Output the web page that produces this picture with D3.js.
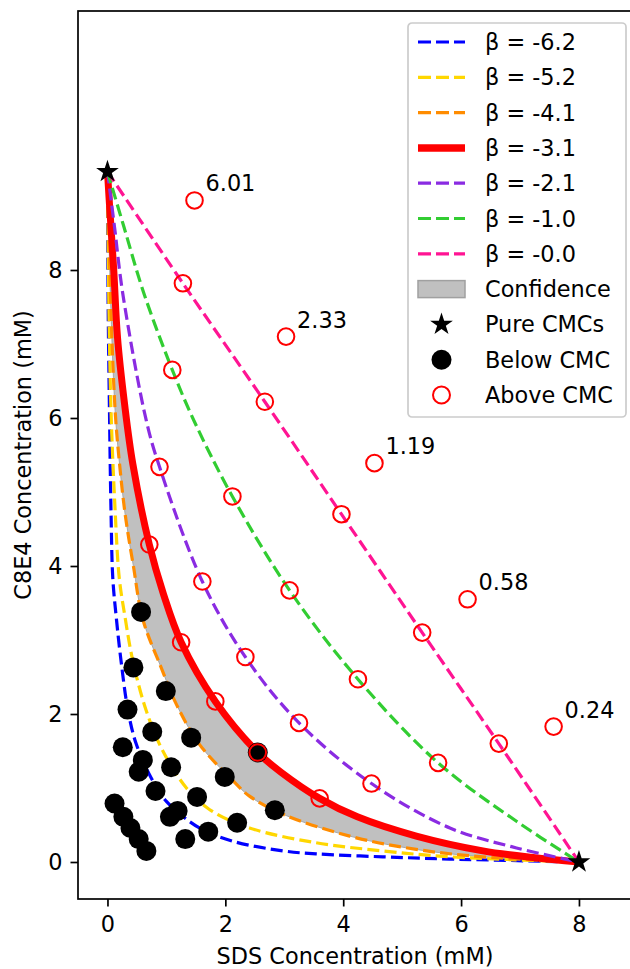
<!DOCTYPE html>
<html>
<head>
<meta charset="utf-8">
<script src="https://cdn.jsdelivr.net/npm/d3@7"></script>
<style>
  body { margin: 0; background: #fff; }
  svg { display: block; font-family: "DejaVu Sans", sans-serif; }
</style>
</head>
<body>
<div id="chart"></div>
<script>
// data
var pureCMC = [[0, 9.33], [8, 0]];

var belowCMC = [
  [0.57, 3.38], [0.44, 2.63], [0.34, 2.06], [0.99, 2.31], [0.76, 1.76],
  [0.26, 1.55], [0.60, 1.38], [0.53, 1.22], [1.42, 1.68], [1.08, 1.28],
  [0.815, 0.96], [1.99, 1.15], [1.52, 0.88], [1.19, 0.69], [1.06, 0.61],
  [1.71, 0.41], [1.32, 0.31], [2.20, 0.53], [2.84, 0.70], [2.55, 1.48],
  [0.12, 0.79], [0.27, 0.61], [0.39, 0.46], [0.53, 0.31], [0.66, 0.15]
];

var aboveCMC = [
  [1.28, 7.82], [2.67, 6.22], [3.97, 4.70], [5.34, 3.10], [6.64, 1.60],
  [1.10, 6.65], [2.12, 4.94], [3.09, 3.67], [4.25, 2.47], [5.61, 1.34],
  [0.883, 5.34], [1.61, 3.79], [2.34, 2.77], [3.25, 1.88], [4.48, 1.06],
  [0.71, 4.29], [1.25, 2.97], [1.83, 2.17], [2.55, 1.48], [3.60, 0.86],
  [1.477, 8.94], [3.03, 7.10], [4.53, 5.39], [6.11, 3.55], [7.57, 1.83]
];

var labelPoints = [[1.477, 8.94], [3.03, 7.10], [4.53, 5.39], [6.11, 3.55], [7.57, 1.83]];
var labelTexts = ["6.01", "2.33", "1.19", "0.58", "0.24"];

var betaNames = ["β = -6.2", "β = -5.2", "β = -4.1", "β = -3.1", "β = -2.1", "β = -1.0", "β = -0.0"];
var betaColors = ["#0000ff", "#ffd700", "#ff8c00", "#ff0000", "#8a2be2", "#32cd32", "#ff1493"];

var curveB62 = [[0, 9.33], [0.012, 7.5], [0.034, 6.1], [0.06, 4.75], [0.09, 3.84], [0.15, 3.3],
  [0.23, 2.72], [0.35, 2.04], [0.49, 1.59], [0.74, 1.14], [1.0, 0.82], [1.56, 0.46],
  [2.13, 0.28], [2.98, 0.15], [3.54, 0.11], [4.67, 0.07], [5.81, 0.04], [8, 0]];
var curveB52 = [[0, 9.33], [0.025, 7.5], [0.06, 6.1], [0.13, 4.75], [0.20, 3.84], [0.30, 3.3],
  [0.43, 2.72], [0.66, 2.04], [0.94, 1.50], [1.34, 1.00], [1.73, 0.71], [2.41, 0.46],
  [3.54, 0.26], [4.67, 0.15], [5.81, 0.07], [8, 0]];
var curveB41 = [[0, 9.33], [0.05, 7.68], [0.13, 6.1], [0.20, 5.42], [0.30, 4.7], [0.44, 4.0],
  [0.60, 3.28], [0.91, 2.63], [1.17, 2.13], [1.56, 1.59], [2.13, 1.10], [2.41, 0.89],
  [2.98, 0.645], [4.11, 0.35], [5.24, 0.17], [6.37, 0.07], [8, 0]];
var curveB31 = [[0, 9.33], [0.034, 8.89], [0.107, 7.99], [0.17, 7.09], [0.29, 6.19], [0.43, 5.38],
  [0.71, 4.29], [0.95, 3.62], [1.25, 2.97], [1.83, 2.17], [2.55, 1.48], [2.95, 1.21],
  [3.60, 0.86], [4.24, 0.61], [5.24, 0.35], [6.37, 0.15], [7.22, 0.06], [8, 0]];
var curveB21 = [[0, 9.33], [0.12, 8.58], [0.26, 7.68], [0.66, 5.96], [0.883, 5.34], [1.61, 3.79],
  [2.34, 2.77], [3.25, 1.88], [4.48, 1.06], [5.81, 0.46], [6.94, 0.19], [8, 0]];
var curveB10 = [[0, 9.33], [0.28, 8.58], [0.62, 7.68], [1.10, 6.65], [1.47, 5.96], [2.12, 4.94],
  [3.09, 3.67], [4.25, 2.47], [5.61, 1.34], [6.94, 0.55], [8, 0]];
var curveB00 = [[0, 9.33], [1.28, 7.82], [2.67, 6.22], [3.97, 4.70], [5.34, 3.10], [6.64, 1.60], [8, 0]];

var xTicks = [0, 2, 4, 6, 8];
var yTicks = [0, 2, 4, 6, 8];

var margin = {top: 11, right: -2, bottom: 70, left: 78},
    width = 630 - margin.left - margin.right,
    height = 969 - margin.top - margin.bottom;
var fontSize = "22.4px";

document.addEventListener('DOMContentLoaded', function () {
  var svg = d3.select("#chart").append("svg")
      .attr("width", 630)
      .attr("height", 969)
    .append("g")
      .attr("transform", "translate(" + margin.left + "," + margin.top + ")");

  var x = d3.scaleLinear().domain([-0.5, 8.9]).range([0, width]);
  var y = d3.scaleLinear().domain([-0.5, 11.5]).range([height, 0]);

  var line = d3.line()
      .x(function (d) { return x(d[0]); })
      .y(function (d) { return y(d[1]); })
      .curve(d3.curveCatmullRom.alpha(0.5));

  // confidence band between beta -4.1 and beta -3.1
  var band = line(curveB31) + "L" + line(curveB41.slice().reverse()).slice(1) + "Z";
  svg.append("path")
      .attr("d", band)
      .attr("fill", "#c0c0c0")
      .attr("stroke", "#a8a8a8")
      .attr("stroke-width", 1);

  var curves = [curveB62, curveB52, curveB41, curveB31, curveB21, curveB10, curveB00];
  curves.forEach(function (c, i) {
    var solid = (i == 3);
    svg.append("path")
        .attr("d", line(c))
        .attr("fill", "none")
        .attr("stroke", betaColors[i])
        .attr("stroke-width", solid ? 7 : 3.2)
        .attr("stroke-dasharray", solid ? null : "12,5.2");
  });

  // axes
  var xAxis = svg.append("g")
      .attr("transform", "translate(0," + height + ")")
      .call(d3.axisBottom(x).tickValues(xTicks).tickFormat(d3.format("d")).tickSize(7.5).tickPadding(10));
  var yAxis = svg.append("g")
      .call(d3.axisLeft(y).tickValues(yTicks).tickFormat(d3.format("d")).tickSize(7.5).tickPadding(8));
  [xAxis, yAxis].forEach(function (a) {
    a.select(".domain").remove();
    a.selectAll("line").attr("stroke", "#000").attr("stroke-width", 1.7);
    a.selectAll("text").attr("fill", "#000").style("font-size", fontSize).style("font-family", "DejaVu Sans");
  });

  svg.append("rect")
      .attr("width", width).attr("height", height)
      .attr("fill", "none").attr("stroke", "#000").attr("stroke-width", 1.7);

  svg.append("text")
      .attr("x", (355 - margin.left))
      .attr("y", 964 - margin.top)
      .style("text-anchor", "middle")
      .style("font-size", fontSize)
      .text("SDS Concentration (mM)");

  svg.append("text")
      .attr("transform", "rotate(-90)")
      .attr("x", -height / 2)
      .attr("y", 31 - margin.left)
      .style("text-anchor", "middle")
      .style("font-size", fontSize)
      .text("C8E4 Concentration (mM)");

  // markers
  var star = d3.symbol().type(d3.symbolStar).size(160);
  svg.selectAll(".pure").data(pureCMC).enter().append("path")
      .attr("class", "pure")
      .attr("d", star)
      .attr("transform", function (d) { return "translate(" + x(d[0]) + "," + y(d[1]) + ")"; })
      .attr("fill", "#000");

  svg.selectAll(".below").data(belowCMC).enter().append("circle")
      .attr("class", "below")
      .attr("cx", function (d) { return x(d[0]); })
      .attr("cy", function (d) { return y(d[1]); })
      .attr("r", 10)
      .attr("fill", "#000");

  svg.selectAll(".above").data(aboveCMC).enter().append("circle")
      .attr("class", "above")
      .attr("cx", function (d) { return x(d[0]); })
      .attr("cy", function (d) { return y(d[1]); })
      .attr("r", 8.3)
      .attr("fill", "none")
      .attr("stroke", "#ff0000")
      .attr("stroke-width", 2);

  svg.selectAll(".lbl").data(labelPoints).enter().append("text")
      .attr("class", "lbl")
      .attr("x", function (d) { return x(d[0]) + 11; })
      .attr("y", function (d) { return y(d[1]) - 9; })
      .style("font-size", fontSize)
      .text(function (d, i) { return labelTexts[i]; });

  // legend
  var lg = svg.append("g").attr("transform", "translate(" + (408 - margin.left) + "," + (23 - margin.top) + ")");
  lg.append("rect")
      .attr("width", 218).attr("height", 394)
      .attr("rx", 4)
      .attr("fill", "#fff").attr("fill-opacity", 0.8)
      .attr("stroke", "#cccccc").attr("stroke-width", 1.7);
  var rowY = function (i) { return 19 + i * 35.3; };
  var hx0 = 10, hx1 = 57, hxc = 33.5, tx = 77;
  betaNames.forEach(function (name, i) {
    var solid = (i == 3);
    lg.append("line")
        .attr("x1", hx0).attr("x2", hx1)
        .attr("y1", rowY(i)).attr("y2", rowY(i))
        .attr("stroke", betaColors[i])
        .attr("stroke-width", solid ? 7.5 : 3.2)
        .attr("stroke-dasharray", solid ? null : "13,5");
  });
  lg.append("rect")
      .attr("x", hx0).attr("y", rowY(7) - 8.5)
      .attr("width", hx1 - hx0).attr("height", 17)
      .attr("fill", "#c0c0c0").attr("stroke", "#a0a0a0").attr("stroke-width", 1.5);
  lg.append("path")
      .attr("d", star)
      .attr("transform", "translate(" + hxc + "," + rowY(8) + ")")
      .attr("fill", "#000");
  lg.append("circle").attr("cx", hxc).attr("cy", rowY(9)).attr("r", 10).attr("fill", "#000");
  lg.append("circle").attr("cx", hxc).attr("cy", rowY(10)).attr("r", 8.5)
      .attr("fill", "none").attr("stroke", "#ff0000").attr("stroke-width", 2);
  var legendTexts = betaNames.concat(["Confidence", "Pure CMCs", "Below CMC", "Above CMC"]);
  legendTexts.forEach(function (t, i) {
    lg.append("text")
        .attr("x", tx).attr("y", rowY(i))
        .attr("dy", "0.36em")
        .style("font-size", fontSize)
        .text(t);
  });
});
</script>
</body>
</html>
